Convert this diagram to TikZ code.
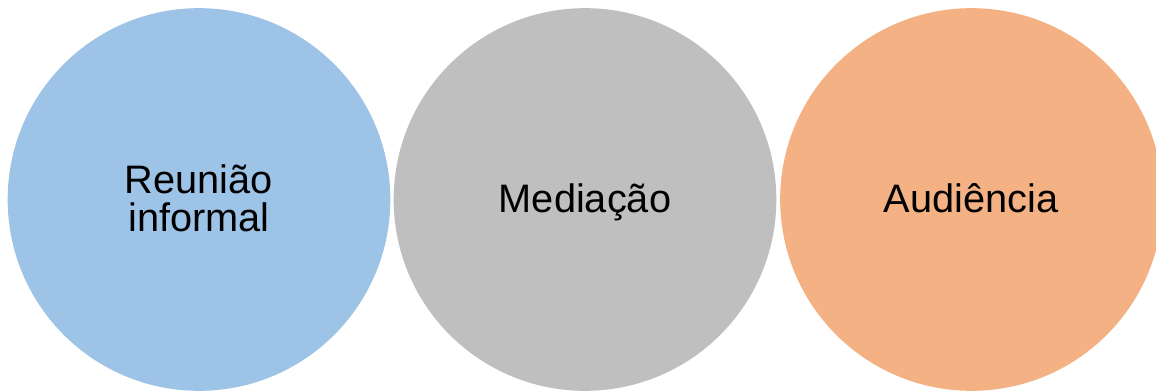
\documentclass[tikz,border=0pt]{standalone}
\usepackage{fontspec}
\setmainfont{Liberation Sans}
\definecolor{bubbleblue}{HTML}{9DC3E6}
\definecolor{bubblegray}{HTML}{BFBFBF}
\definecolor{bubbleorange}{HTML}{F4B183}
\begin{document}
\begin{tikzpicture}[x=0.75pt,y=-0.75pt,
    bubble/.style={circle,minimum size=287pt,inner sep=0pt},
    caption/.style={anchor=base,inner sep=0pt,align=center,
      font=\fontsize{29.8}{28.3}\selectfont}]
    \clip (0,0) rectangle (1156,390);
    \fill[white] (0,0) rectangle (1156,390);
    \node[bubble,fill=bubbleblue] (reuniao) at (199,199.5) {};
    \node[bubble,fill=bubblegray] (mediacao) at (585,199.5) {};
    \node[bubble,fill=bubbleorange] (audiencia) at (971.5,199.5) {};
    % labels, placed on their (last) baselines
    \node[caption] (reuniaotxt) at (199,231.7) {Reunião\\informal};
    \node[caption] (mediacaotxt) at (585,212.7) {Mediação};
    \node[caption] (audienciatxt) at (971,212.7) {Audiência};
\end{tikzpicture}
\end{document}
